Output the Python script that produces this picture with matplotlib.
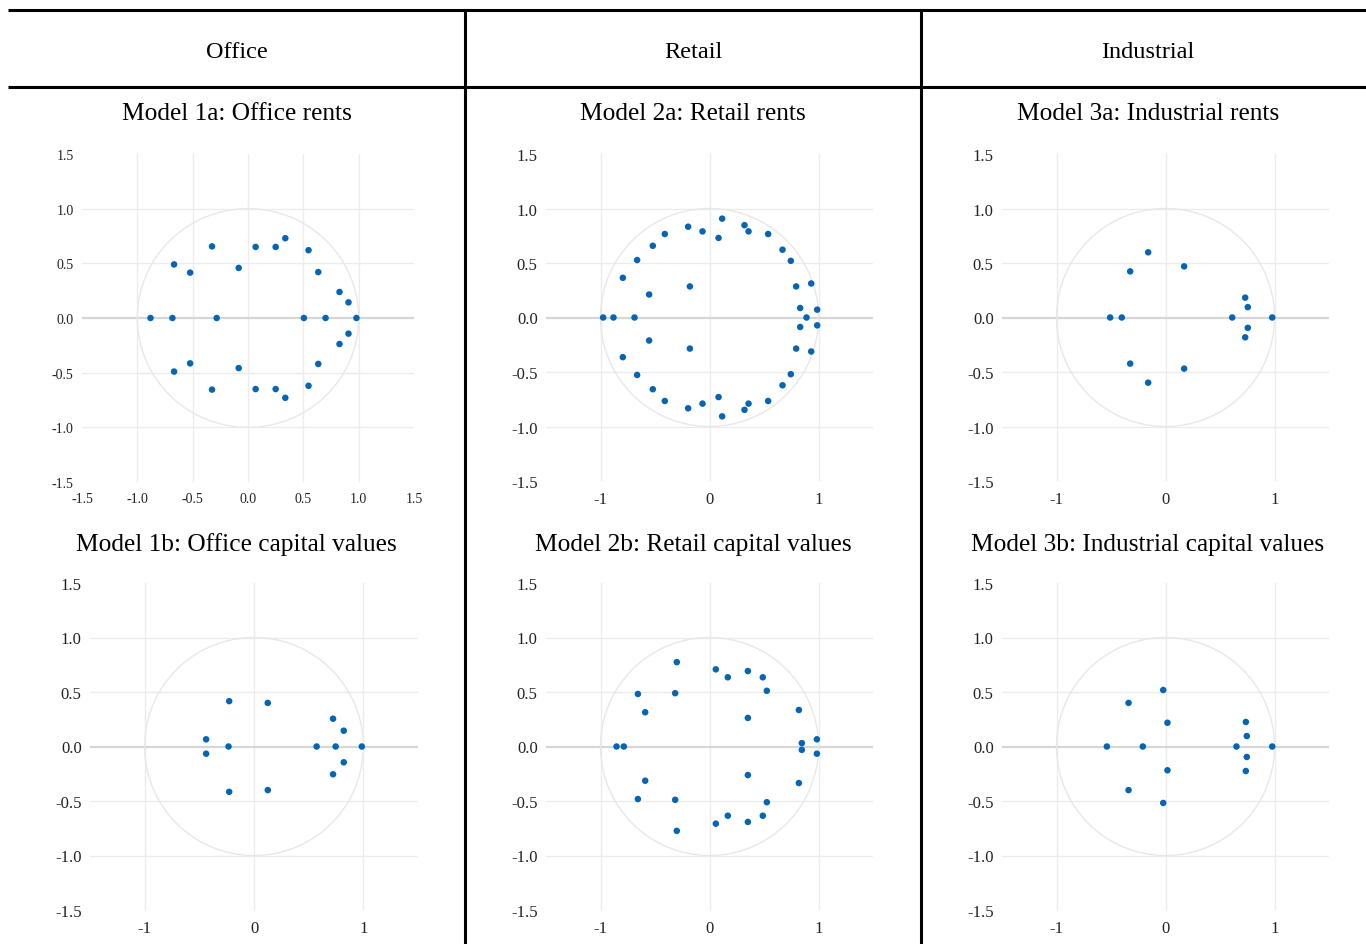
import matplotlib
matplotlib.use("Agg")
import matplotlib.pyplot as plt
from matplotlib.lines import Line2D
import numpy as np

plt.rcParams["font.family"] = ["Liberation Serif", "DejaVu Serif"]
plt.rcParams["axes.unicode_minus"] = False

# ---- inverse AR roots (real part, imaginary part) ----
office_rent_re = [-0.881, -0.683, -0.283, 0.505, 0.701, 0.980,
                  -0.668, -0.668, -0.523, -0.523, -0.325, -0.325, -0.084, -0.084,
                  0.069, 0.069, 0.250, 0.250, 0.337, 0.337, 0.547, 0.547,
                  0.635, 0.635, 0.827, 0.827, 0.908, 0.908]
office_rent_im = [0, 0, 0, 0, 0, 0,
                  0.490, -0.490, 0.415, -0.415, 0.655, -0.655, 0.458, -0.458,
                  0.650, -0.650, 0.650, -0.650, 0.730, -0.730, 0.620, -0.620,
                  0.420, -0.420, 0.238, -0.238, 0.143, -0.143]

retail_rent_re = [-0.976, -0.881, -0.688, 0.890,
                  0.988, 0.988, 0.832, 0.832, 0.933, 0.933, 0.795, 0.795,
                  0.746, 0.746, 0.670, 0.670, 0.538, 0.538, 0.358, 0.358,
                  0.321, 0.321, 0.116, 0.116, 0.083, 0.083, -0.064, -0.064,
                  -0.196, -0.196, -0.180, -0.180, -0.410, -0.410, -0.520, -0.520,
                  -0.664, -0.664, -0.554, -0.554, -0.795, -0.795]
retail_rent_im = [0, 0, 0, 0,
                  0.072, -0.072, 0.087, -0.087, 0.312, -0.312, 0.285, -0.285,
                  0.520, -0.520, 0.622, -0.622, 0.766, -0.766, 0.790, -0.790,
                  0.847, -0.847, 0.907, -0.907, 0.730, -0.730, 0.790, -0.790,
                  0.833, -0.833, 0.285, -0.285, 0.766, -0.766, 0.658, -0.658,
                  0.527, -0.527, 0.211, -0.211, 0.364, -0.364]

industrial_rent_re = [-0.508, -0.401, 0.612, 0.979,
                      -0.159, -0.159, -0.324, -0.324, 0.171, 0.171,
                      0.731, 0.731, 0.755, 0.755]
industrial_rent_im = [0, 0, 0, 0,
                      0.598, -0.598, 0.423, -0.423, 0.469, -0.469,
                      0.182, -0.182, 0.095, -0.095]

office_cap_re = [-0.233, 0.573, 0.747, 0.986,
                 -0.438, -0.438, -0.227, -0.227, 0.126, 0.126,
                 0.723, 0.723, 0.821, 0.821]
office_cap_im = [0, 0, 0, 0,
                 0.066, -0.066, 0.416, -0.416, 0.400, -0.400,
                 0.255, -0.255, 0.145, -0.145]

retail_cap_re = [-0.853, -0.786,
                 0.985, 0.985, 0.847, 0.847, 0.820, 0.820, 0.352, 0.352,
                 0.526, 0.526, 0.489, 0.489, 0.352, 0.352, 0.168, 0.168,
                 0.058, 0.058, -0.300, -0.300, -0.315, -0.315,
                 -0.657, -0.657, -0.590, -0.590]
retail_cap_im = [0, 0,
                 0.066, -0.066, 0.031, -0.031, 0.335, -0.335, 0.262, -0.262,
                 0.511, -0.511, 0.635, -0.635, 0.692, -0.692, 0.635, -0.635,
                 0.708, -0.708, 0.774, -0.774, 0.489, -0.489,
                 0.482, -0.482, 0.314, -0.314]

industrial_cap_re = [-0.538, -0.208, 0.651, 0.979,
                     -0.339, -0.339, -0.021, -0.021, 0.018, 0.018,
                     0.737, 0.737, 0.746, 0.746]
industrial_cap_im = [0, 0, 0, 0,
                     0.400, -0.400, 0.518, -0.518, 0.218, -0.218,
                     0.225, -0.225, 0.096, -0.096]

column_headers = ["Office", "Retail", "Industrial"]
panel_titles = ["Model 1a: Office rents", "Model 2a: Retail rents",
                "Model 3a: Industrial rents",
                "Model 1b: Office capital values", "Model 2b: Retail capital values",
                "Model 3b: Industrial capital values"]
panel_data = [(office_rent_re, office_rent_im), (retail_rent_re, retail_rent_im),
              (industrial_rent_re, industrial_rent_im),
              (office_cap_re, office_cap_im), (retail_cap_re, retail_cap_im),
              (industrial_cap_re, industrial_cap_im)]
fine_ticks = [-1.5, -1.0, -0.5, 0.0, 0.5, 1.0, 1.5]
coarse_xticks = [-1, 0, 1]

W, H = 1366, 945
fig = plt.figure(figsize=(W / 100, H / 100), dpi=100)


def px_rect(left, top, right, bottom):
    return [left / W, 1 - bottom / H, (right - left) / W, (bottom - top) / H]


def fig_line(x0, y0, x1, y1, lw=2.2):
    fig.add_artist(Line2D([x0 / W, x1 / W], [1 - y0 / H, 1 - y1 / H],
                          transform=fig.transFigure, color="black", lw=lw,
                          solid_capstyle="butt"))


# table frame
fig_line(8, 10.5, W, 10.5)
fig_line(8, 87.5, W, 87.5)
fig_line(465, 10.5, 465, H)
fig_line(921, 10.5, 921, H)

col_centers = [236.5, 693, 1148]
for cx, txt in zip(col_centers, column_headers):
    fig.text(cx / W, 1 - 52 / H, txt, ha="center", va="center", fontsize=17.5)

axes_boxes = [(82, 155, 414, 483), (546, 155, 873, 482), (1002, 155, 1329, 482),
              (90, 584, 418, 911), (546, 584, 873, 911), (1002, 584, 1329, 911)]
title_y = [114, 114, 114, 545, 545, 545]

theta = np.linspace(0, 2 * np.pi, 400)

for i, (box, (re, im), title) in enumerate(zip(axes_boxes, panel_data, panel_titles)):
    ax = fig.add_axes(px_rect(*box))
    ax.set_xlim(-1.5, 1.5)
    ax.set_ylim(-1.5, 1.5)
    for s in ax.spines.values():
        s.set_visible(False)
    fine = (i == 0)
    xt = fine_ticks if fine else coarse_xticks
    fs = 10 if fine else 12
    for v in xt:
        if abs(v) < 1.5:
            ax.axvline(v, color="#ececec", lw=1.0, zorder=0)
    for v in fine_ticks:
        if abs(v) < 1.5 and v != 0:
            ax.axhline(v, color="#ececec", lw=1.0, zorder=0)
    ax.axhline(0, color="#d6d6d6", lw=1.6, zorder=1)
    ax.plot(np.cos(theta), np.sin(theta), color="#e8e8e8", lw=1.0, zorder=1)
    ax.scatter(re, im, s=22, color="#0565b4", edgecolors="none", zorder=3)
    ax.set_xticks(xt)
    ax.set_xticklabels([f"{v:.1f}" if fine else f"{v:d}" for v in xt])
    ax.set_yticks(fine_ticks)
    ax.set_yticklabels([f"{v:.1f}" for v in fine_ticks])
    ax.tick_params(length=0, labelsize=fs, colors="#222222")
    ax.tick_params(axis="x", pad=7)
    ax.tick_params(axis="y", pad=6)
    cx = col_centers[i % 3]
    fig.text(cx / W, 1 - title_y[i] / H, title, ha="center", va="center",
             fontsize=18.3)

fig.savefig("out.png", dpi=100, facecolor="white")
